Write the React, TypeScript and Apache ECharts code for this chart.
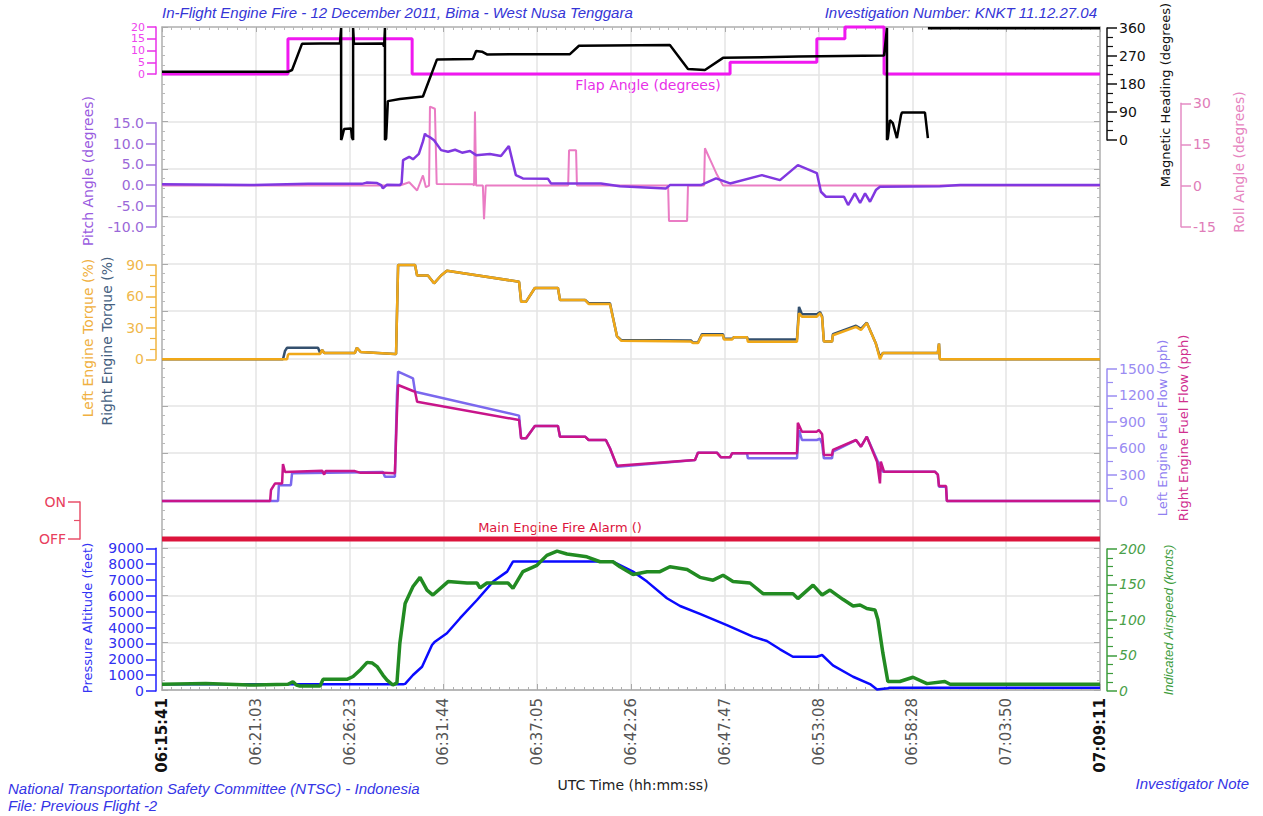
import React, { useEffect, useRef } from 'react';
import * as echarts from 'echarts';

// ---------- tick labels / axis range (seconds since 06:15:41) ----------
const TIME_LABELS = ['06:15:41', '06:21:03', '06:26:23', '06:31:44', '06:37:05', '06:42:26', '06:47:47', '06:53:08', '06:58:28', '07:03:50', '07:09:11'];
const T_MAX = 3210;
const T_STEP = 321;

// ---------- data: [seconds, value] ----------
const FLAP_DEG = [[0, 0], [431, 15], [856, 0], [1944, 5], [2241, 15], [2337, 20], [2471, 0], [3210, 0]];

const HEADING_A = [[0, 219], [431, 219], [445, 225], [479, 309], [609, 311], [613, 360], [613, 0], [616, 8], [623, 35], [647, 37], [650, 8], [654, 0], [654, 360], [657, 309], [756, 310], [760, 300], [763, 360], [763, 0], [767, 5], [773, 125], [814, 132], [893, 140], [941, 259], [1064, 260], [1075, 286], [1095, 284], [1112, 275], [1396, 276], [1427, 303], [1738, 305], [1800, 228], [1858, 225], [1920, 264], [2179, 268], [2471, 272], [2481, 360], [2481, 0], [2484, 5], [2491, 64], [2501, 54], [2515, 6], [2529, 80], [2532, 88], [2611, 88], [2621, 6]];
const HEADING_B = [[2621, 359], [3210, 359]];

const PITCH_DEG = [[0, 0.2], [300, 0], [500, 0.3], [684, 0.3], [700, 0.6], [736, 0.5], [750, 0], [756, -0.8], [770, 0.1], [814, 0], [820, 0.5], [825, 6.0], [846, 6.8], [859, 6.2], [879, 7.5], [893, 10.5], [900, 12.4], [903, 12.0], [917, 11.5], [931, 10.8], [955, 8.4], [979, 8.0], [1003, 8.5], [1027, 7.8], [1054, 8.2], [1075, 7.2], [1122, 7.5], [1160, 7.0], [1187, 9.4], [1211, 2.4], [1235, 1.6], [1321, 1.5], [1331, 0.4], [1502, 0.4], [1567, -0.3], [1725, -0.8], [1738, 0], [1844, 0], [1896, 1.6], [1944, 0.4], [2053, 2.4], [2115, 1.2], [2176, 4.8], [2241, 2.9], [2255, -1.6], [2272, -2.8], [2334, -2.8], [2348, -4.8], [2371, -2], [2389, -4.3], [2406, -2], [2423, -4], [2443, -1.2], [2457, -0.4], [2662, -0.3], [2731, 0], [3210, 0]];

const ROLL_DEG = [[0, 0], [814, 0], [846, 1.2], [873, -1.8], [893, 3.7], [903, -0.6], [914, 0], [917, 28.8], [934, 28], [940, 0.6], [1064, 0.5], [1068, 0], [1071, 27], [1075, 0], [1098, 0], [1102, -12.3], [1108, 0], [1390, 0], [1393, 12.9], [1417, 12.9], [1420, 0], [1732, 0], [1735, -12.9], [1797, -12.9], [1800, 0], [1855, 0], [1858, 13.6], [1882, 8], [1899, 4], [1920, 0], [3210, 0]];

const TORQUE_LEFT = [[0, 0], [428, 0], [431, 4], [434, 5], [541, 5], [548, 9], [555, 6], [660, 6], [667, 11], [680, 7], [797, 5], [801, 5], [808, 90], [866, 90], [873, 80], [910, 80], [931, 72.5], [955, 80], [975, 84.5], [1222, 74], [1229, 55], [1246, 55], [1276, 68], [1355, 68], [1362, 56.6], [1448, 56.6], [1460, 52.8], [1533, 52.8], [1557, 22], [1571, 17.8], [1810, 17], [1817, 15.5], [1834, 15.5], [1848, 23], [1920, 23], [1923, 19], [1951, 19], [1957, 21], [2002, 21], [2005, 16.8], [2173, 16.8], [2180, 44], [2190, 40.7], [2241, 40.7], [2252, 44], [2259, 40], [2265, 17], [2293, 17], [2296, 23], [2375, 31], [2392, 28], [2412, 34.6], [2443, 15], [2457, 0], [2467, 6], [2655, 6], [2659, 15], [2662, 0], [3210, 0]];
const TORQUE_RIGHT = [[0, 0], [414, 0], [421, 8], [428, 11], [534, 11], [541, 6], [548, 9], [555, 6], [660, 6], [667, 11], [680, 7], [797, 5], [801, 5], [808, 90], [866, 90], [873, 80], [910, 80], [931, 72.5], [955, 80], [975, 84.5], [1222, 74], [1229, 55], [1246, 55], [1276, 68], [1355, 68], [1362, 56.6], [1448, 56.6], [1460, 53.5], [1533, 53.5], [1557, 22], [1571, 18.5], [1810, 18], [1817, 16], [1834, 16], [1848, 24], [1920, 24], [1923, 19.5], [1951, 19.5], [1957, 21], [2002, 21], [2005, 19], [2173, 19], [2180, 50], [2190, 43], [2241, 43], [2252, 45], [2259, 41], [2265, 17], [2293, 17], [2296, 24], [2375, 32], [2392, 29], [2412, 35], [2443, 15], [2457, 2], [2467, 6], [2655, 6], [2659, 15], [2662, 0], [3210, 0]];

const FUEL_LEFT = [[0, 0], [397, 0], [400, 180], [441, 180], [445, 315], [756, 330], [763, 276], [797, 276], [804, 1200], [808, 1470], [859, 1394], [866, 1242], [1222, 970], [1229, 712], [1246, 712], [1276, 852], [1355, 852], [1362, 731], [1448, 731], [1460, 693], [1519, 693], [1533, 600], [1557, 390], [1824, 466], [1834, 549], [1899, 549], [1913, 496], [1944, 496], [1951, 542], [2002, 542], [2005, 485], [2173, 485], [2180, 807], [2190, 693], [2241, 693], [2252, 707], [2259, 650], [2265, 485], [2293, 485], [2296, 560], [2375, 693], [2392, 617], [2412, 731], [2450, 447], [2467, 333], [2645, 333], [2655, 300], [2659, 163], [2683, 163], [2686, 0], [3210, 0]];
const FUEL_RIGHT = [[0, 0], [370, 0], [373, 125], [387, 200], [411, 200], [414, 420], [421, 330], [548, 345], [555, 300], [560, 340], [660, 340], [680, 320], [756, 320], [797, 315], [804, 1000], [808, 1318], [859, 1250], [866, 1242], [873, 1128], [1222, 920], [1229, 712], [1246, 712], [1276, 852], [1355, 852], [1362, 731], [1448, 731], [1460, 693], [1519, 693], [1533, 600], [1557, 400], [1824, 466], [1834, 549], [1899, 549], [1913, 496], [1944, 496], [1951, 542], [2173, 542], [2176, 890], [2190, 788], [2241, 788], [2248, 807], [2259, 760], [2265, 523], [2293, 523], [2296, 580], [2375, 693], [2392, 617], [2412, 731], [2447, 447], [2457, 200], [2460, 447], [2471, 333], [2645, 333], [2655, 300], [2659, 170], [2683, 170], [2686, 0], [3210, 0]];

const FIRE_ALARM = [[0, 0], [3210, 0]];

const ALTITUDE_FT = [[0, 420], [825, 420], [832, 450], [859, 1010], [890, 1530], [924, 2900], [934, 3110], [975, 3640], [1020, 4590], [1078, 5740], [1133, 6900], [1181, 7530], [1201, 8160], [1543, 8160], [1612, 7530], [1660, 6900], [1728, 5850], [1773, 5360], [1841, 4860], [1933, 4160], [2022, 3430], [2070, 3150], [2115, 2630], [2159, 2160], [2241, 2160], [2259, 2270], [2296, 1620], [2365, 900], [2423, 440], [2447, 100], [2484, 170], [2491, 210], [3210, 210]];

const AIRSPEED_KT = [[0, 9], [150, 10], [300, 8], [431, 9], [448, 12.7], [460, 8], [472, 6.6], [541, 6.6], [551, 16], [633, 16], [654, 20], [680, 30], [702, 40], [720, 39], [736, 34], [756, 22], [770, 15], [790, 8], [804, 11], [814, 67], [832, 123], [859, 147], [883, 160], [907, 142], [927, 135], [979, 154], [1044, 152], [1078, 152], [1088, 145], [1112, 152], [1184, 152], [1201, 144.5], [1235, 168], [1283, 177], [1317, 191], [1352, 197], [1386, 193], [1454, 189], [1499, 182], [1543, 182], [1567, 175], [1612, 164], [1660, 168], [1704, 168], [1738, 175], [1797, 171], [1841, 160], [1886, 156], [1920, 163], [1954, 154], [2012, 152], [2057, 137], [2159, 137], [2176, 130], [2228, 149], [2259, 135], [2286, 142], [2330, 129], [2365, 119.5], [2389, 121], [2412, 116], [2440, 114], [2450, 100], [2467, 53], [2484, 13], [2525, 13], [2570, 19], [2618, 10], [2679, 13], [2697, 9], [3210, 9]];

const FONT = '"DejaVu Sans", Verdana, sans-serif';
const TITLE_FONT = '"Liberation Sans", Arial, sans-serif';
const PLOT_LEFT = 162;
const PLOT_RIGHT = 163;

type AxisCfg = {
  key: string; top: number; height: number; min: number; max: number; interval: number;
  side: 'left' | 'right'; offset: number; color: string; labelColor: string;
  minor?: number; fmt?: (v: number) => string; italic?: boolean; fontSize?: number; tick?: number;
};

const AXES: AxisCfg[] = [
  { key: 'flap', top: 27, height: 47, min: 0, max: 20, interval: 5, side: 'left', offset: 6, color: '#e830e8', labelColor: '#ee44ee', fontSize: 11, tick: 9 },
  { key: 'heading', top: 28, height: 112, min: 0, max: 360, interval: 90, side: 'right', offset: 7, color: '#111111', labelColor: '#111111', minor: 3 },
  { key: 'roll', top: 103.3, height: 123.4, min: -15, max: 30, interval: 15, side: 'right', offset: 81, color: '#e48cc4', labelColor: '#e07cb8' },
  { key: 'pitch', top: 122.7, height: 104, min: -10, max: 15, interval: 5, side: 'left', offset: 6, color: '#a070dc', labelColor: '#9a68d8', fmt: (v) => v.toFixed(1) },
  { key: 'torque', top: 265, height: 94.3, min: 0, max: 90, interval: 30, side: 'left', offset: 6, color: '#f0b440', labelColor: '#f0b84c', minor: 3 },
  { key: 'fuel', top: 369, height: 132, min: 0, max: 1500, interval: 300, side: 'right', offset: 7, color: '#9a8cf2', labelColor: '#9a8cf2', minor: 2 },
  { key: 'alarm', top: 502, height: 37, min: 0, max: 1, interval: 1, side: 'left', offset: 82, color: '#e8506a', labelColor: '#e8405c', minor: 2, fmt: (v) => (v === 1 ? 'ON' : 'OFF'), tick: 12 },
  { key: 'alt', top: 548.3, height: 142.7, min: 0, max: 9000, interval: 1000, side: 'left', offset: 6, color: '#2020ff', labelColor: '#3030f0' },
  { key: 'ias', top: 549, height: 141.7, min: 0, max: 200, interval: 50, side: 'right', offset: 7, color: '#3c9c3c', labelColor: '#4aa04a', minor: 4, italic: true },
];

function buildOption() {
  const grid: any[] = [{ left: PLOT_LEFT, right: PLOT_RIGHT, top: 27, height: 663 }];
  const frameLine = { lineStyle: { color: '#b5b5b5', width: 1.5 } };
  const xAxis: any[] = [
    {
      gridIndex: 0, type: 'value', min: 0, max: T_MAX, interval: T_STEP, position: 'bottom',
      axisLine: { show: true, onZero: false, lineStyle: { color: '#b8b8b8', width: 2 } },
      axisTick: { show: true, inside: true, length: 6, lineStyle: { color: '#aaaaaa' } },
      minorTick: { show: true, splitNumber: 10, length: 3, lineStyle: { color: '#b0b0b0' } },
      splitLine: { show: true, lineStyle: { color: '#e4e4e4', width: 1.5 } },
      axisLabel: {
        rotate: 90, margin: 8, showMinLabel: true, showMaxLabel: true,
        formatter: (v: number) => {
          const i = Math.round(v / T_STEP);
          const s = TIME_LABELS[i] || '';
          return i === 0 || i === TIME_LABELS.length - 1 ? `{b|${s}}` : `{n|${s}}`;
        },
        rich: {
          b: { fontWeight: 'bold', color: '#111', fontSize: 15, fontFamily: FONT },
          n: { color: '#555', fontSize: 15, fontFamily: FONT },
        },
      },
    },
    {
      gridIndex: 0, type: 'value', min: 0, max: T_MAX, interval: T_STEP, position: 'top',
      axisLine: { show: true, onZero: false, ...frameLine },
      axisTick: { show: true, inside: true, length: 5, lineStyle: { color: '#aaaaaa' } },
      minorTick: { show: true, splitNumber: 10, length: 3, lineStyle: { color: '#b8b8b8' } },
      splitLine: { show: false },
      axisLabel: { show: false },
    },
  ];
  const yAxis: any[] = [
    {
      gridIndex: 0, type: 'value', min: 0, max: 14, interval: 1, position: 'left',
      axisLine: { show: true, onZero: false, ...frameLine },
      axisTick: { show: true, inside: true, length: 6, lineStyle: { color: '#aaaaaa' } },
      minorTick: { show: true, splitNumber: 5, length: 3, lineStyle: { color: '#b8b8b8' } },
      splitLine: { show: true, lineStyle: { color: '#e4e4e4', width: 1.5 } },
      axisLabel: { show: false },
    },
    {
      gridIndex: 0, type: 'value', min: 0, max: 14, interval: 1, position: 'right',
      axisLine: { show: true, onZero: false, ...frameLine },
      axisTick: { show: true, inside: true, length: 6, lineStyle: { color: '#aaaaaa' } },
      minorTick: { show: true, splitNumber: 5, length: 3, lineStyle: { color: '#b8b8b8' } },
      splitLine: { show: false },
      axisLabel: { show: false },
    },
  ];
  const idx: Record<string, number> = {};
  AXES.forEach((a, k) => {
    const gi = k + 1;
    idx[a.key] = xAxis.length;
    grid.push({ left: PLOT_LEFT, right: PLOT_RIGHT, top: a.top, height: a.height });
    xAxis.push({ gridIndex: gi, type: 'value', min: 0, max: T_MAX, show: false });
    const tick = a.tick ?? 10;
    const fs = a.fontSize ?? 14;
    yAxis.push({
      gridIndex: gi, type: 'value', min: a.min, max: a.max, interval: a.interval,
      position: a.side, offset: a.offset,
      axisLine: { show: true, onZero: false, lineStyle: { color: a.color, width: 1.5 } },
      axisTick: { show: true, length: tick, lineStyle: { color: a.color, width: 1.5 } },
      minorTick: { show: !!a.minor, splitNumber: a.minor || 5, length: 6, lineStyle: { color: a.color, width: 1.2 } },
      splitLine: { show: false },
      axisLabel: {
        color: a.labelColor, fontSize: fs, lineHeight: fs, fontFamily: FONT, margin: tick + 2,
        fontStyle: a.italic ? 'italic' : 'normal', showMinLabel: true, showMaxLabel: true, hideOverlap: false,
        formatter: a.fmt ? a.fmt : (v: number) => String(v),
      },
    });
  });

  const mk = (name: string, key: string, data: number[][], color: string, width: number, extra: any = {}) => ({
    name, type: 'line', xAxisIndex: idx[key], yAxisIndex: idx[key], data, showSymbol: false, symbol: 'none',
    clip: false, silent: true, lineStyle: { color, width }, itemStyle: { color }, ...extra,
  });

  const series = [
    mk('Flap Angle', 'flap', FLAP_DEG, '#f018f0', 3, { step: 'end' }),
    mk('Magnetic Heading', 'heading', HEADING_A, '#000000', 2.5),
    mk('Magnetic Heading B', 'heading', HEADING_B, '#000000', 2.5),
    mk('Roll Angle', 'roll', ROLL_DEG, '#ea7cc4', 2),
    mk('Pitch Angle', 'pitch', PITCH_DEG, '#8038e0', 2.5),
    mk('Right Engine Torque', 'torque', TORQUE_RIGHT, '#34506e', 2.5),
    mk('Left Engine Torque', 'torque', TORQUE_LEFT, '#f0a818', 2.5),
    mk('Left Engine Fuel Flow', 'fuel', FUEL_LEFT, '#7b68ee', 2.5),
    mk('Right Engine Fuel Flow', 'fuel', FUEL_RIGHT, '#c8158a', 2.5),
    mk('Main Engine Fire Alarm', 'alarm', FIRE_ALARM, '#dc143c', 5),
    mk('Pressure Altitude', 'alt', ALTITUDE_FT, '#0a0aff', 2.5),
    mk('Indicated Airspeed', 'ias', AIRSPEED_KT, '#228b22', 3.5),
  ];

  const vText = (text: string, x: number, y: number, fill: string, fontSize: number, italic = false) => ({
    type: 'text', x, y, rotation: Math.PI / 2, silent: true,
    style: { text, fill, fontSize, fontFamily: italic ? TITLE_FONT : FONT, fontStyle: italic ? 'italic' : 'normal', align: 'center', verticalAlign: 'middle' },
  });
  const hText = (text: string, x: number, y: number, fill: string, fontSize: number, align: string, italic: boolean, family = TITLE_FONT) => ({
    type: 'text', x, y, silent: true,
    style: { text, fill, fontSize, fontFamily: family, fontStyle: italic ? 'italic' : 'normal', align, verticalAlign: 'middle' },
  });

  const graphic = [
    hText('In-Flight Engine Fire - 12 December 2011, Bima - West Nusa Tenggara', 162, 12, '#3535d6', 15, 'left', true),
    hText('Investigation Number: KNKT 11.12.27.04', 1097, 12, '#3535d6', 15, 'right', true),
    hText('National Transportation Safety Committee (NTSC) - Indonesia', 8, 788, '#3535e6', 15, 'left', true),
    hText('File: Previous Flight -2', 8, 805, '#3535e6', 15, 'left', true),
    hText('Investigator Note', 1249, 783, '#3535e6', 15, 'right', true),
    hText('UTC Time (hh:mm:ss)', 633, 785, '#222222', 14, 'center', false, FONT),
    hText('Flap Angle (degrees)', 648, 85, '#e830e8', 14, 'center', false, FONT),
    hText('Main Engine Fire Alarm ()', 560, 527, '#dc143c', 13, 'center', false, FONT),
    vText('Pitch Angle (degrees)', 88, 171, '#9a5ce0', 14),
    vText('Left Engine Torque (%)', 88, 338, '#f0b040', 14),
    vText('Right Engine Torque (%)', 107, 341, '#46617f', 14),
    vText('Pressure Altitude (feet)', 87, 618, '#3434f4', 13),
    vText('Magnetic Heading (degrees)', 1165, 95, '#111111', 13),
    vText('Roll Angle (degrees)', 1239, 162, '#e684c0', 14),
    vText('Left Engine Fuel Flow (pph)', 1162, 428, '#9080f0', 13),
    vText('Right Engine Fuel Flow (pph)', 1183, 428, '#d0308f', 13),
    vText('Indicated Airspeed (knots)', 1168, 620, '#3c9c3c', 13, true),
  ];

  return { animation: false, backgroundColor: '#ffffff', grid, xAxis, yAxis, series, graphic };
}

export default function App() {
  const ref = useRef<HTMLDivElement>(null);
  useEffect(() => {
    if (!ref.current) return;
    const chart = echarts.init(ref.current, undefined, { renderer: 'svg' });
    chart.setOption(buildOption() as any);
    return () => chart.dispose();
  }, []);
  return <div ref={ref} style={{ position: 'fixed', left: 0, top: 0, width: 1263, height: 816, background: '#fff' }} />;
}
